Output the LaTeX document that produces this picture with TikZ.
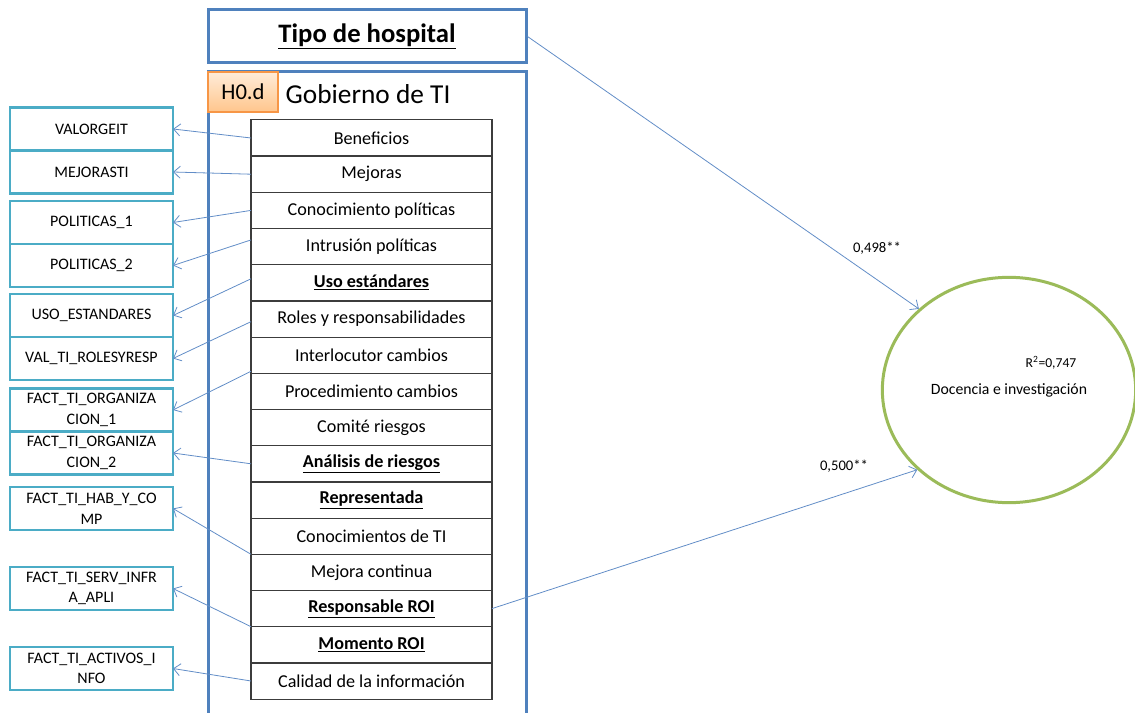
\documentclass[tikz,border=0pt]{standalone}
\usepackage{fontspec}
\setmainfont{Carlito}
\usetikzlibrary{positioning,shapes.geometric,arrows.meta}

\definecolor{outerblue}{RGB}{79,129,189}
\definecolor{tealbox}{RGB}{75,172,198}
\definecolor{linkblue}{RGB}{98,141,199}
\definecolor{circgreen}{RGB}{155,187,89}
\definecolor{horange}{RGB}{247,150,70}
\definecolor{rowline}{RGB}{60,60,60}

\tikzset{
  rowbox/.style={draw=rowline, line width=0.9pt, minimum width=180.75pt, minimum height=27.15pt,
    inner sep=0pt, outer sep=0pt, font=\fontsize{13.6}{15}\selectfont},
  indbox/.style={draw=tealbox, line width=2.2pt, minimum width=122.25pt, minimum height=32.25pt,
    inner sep=1pt, outer sep=0pt, align=center, font=\fontsize{12}{15.5}\selectfont},
  link/.style={draw=linkblue, line width=0.6pt, -{Straight Barb[length=5pt,width=9pt]}},
  coef/.style={font=\fontsize{11}{13}\selectfont},
}

\begin{document}
\begin{tikzpicture}[x=0.75pt,y=0.75pt,yscale=-1,xscale=1]
  \useasboundingbox (0,0) rectangle (1135,713);

  % construct boxes
  \node[draw=outerblue, line width=2.25pt, minimum width=238.5pt, minimum height=39.75pt, inner sep=0pt,
    font=\fontsize{20}{22}\selectfont\bfseries] (tipo) at (367,36.5) {\raisebox{2pt}{\underline{Tipo de hospital}}};
  \draw[outerblue, line width=2.25pt] (208,730) -- (208,72) -- (526,72) -- (526,730);
  \node[draw=horange, line width=0.8pt, top color=orange!15, bottom color=orange!45, minimum width=52.5pt,
    minimum height=30pt, inner sep=0pt, font=\fontsize{17}{19}\selectfont] (hyp) at (243,92) {H0.d};
  \node[font=\fontsize{20.5}{22}\selectfont, anchor=west] (gobierno) at (281,94) {Gobierno de TI};

  % items
  \node[rowbox] (r1) at (371.5,138) {Beneficios};
  \node[rowbox, below=0pt of r1] (r2) {Mejoras};
  \node[rowbox, below=0pt of r2] (r3) {Conocimiento políticas};
  \node[rowbox, below=0pt of r3] (r4) {Intrusión políticas};
  \node[rowbox, below=0pt of r4] (r5) {\textbf{\underline{Uso estándares}}};
  \node[rowbox, below=0pt of r5] (r6) {Roles y responsabilidades};
  \node[rowbox, below=0pt of r6] (r7) {Interlocutor cambios};
  \node[rowbox, below=0pt of r7] (r8) {Procedimiento cambios};
  \node[rowbox, below=0pt of r8] (r9) {Comité riesgos};
  \node[rowbox, below=0pt of r9] (r10) {\textbf{\underline{Análisis de riesgos}}};
  \node[rowbox, below=0pt of r10] (r11) {\textbf{\underline{Representada}}};
  \node[rowbox, below=0pt of r11] (r12) {Conocimientos de TI};
  \node[rowbox, below=0pt of r12] (r13) {Mejora continua};
  \node[rowbox, below=0pt of r13] (r14) {\textbf{\underline{Responsable ROI}}};
  \node[rowbox, below=0pt of r14] (r15) {\textbf{\underline{Momento ROI}}};
  \node[rowbox, below=0pt of r15] (r16) {Calidad de la información};

  % indicators
  \node[indbox] (valorgeit) at (91.5,129) {VALORGEIT};
  \node[indbox, below=0pt of valorgeit] (mejorasti) {MEJORASTI};
  \node[indbox] (politicas1) at (91.5,222.5) {POLITICAS\_1};
  \node[indbox, below=0pt of politicas1] (politicas2) {POLITICAS\_2};
  \node[indbox] (usoest) at (91.5,315.5) {USO\_ESTANDARES};
  \node[indbox, below=0pt of usoest] (valroles) {VAL\_TI\_ROLESYRESP};
  \node[indbox] (factorg1) at (91.5,410) {FACT\_TI\_ORGANIZA\\CION\_1};
  \node[indbox, below=0pt of factorg1] (factorg2) {FACT\_TI\_ORGANIZA\\CION\_2};
  \node[indbox] (facthab) at (91.5,508.5) {FACT\_TI\_HAB\_Y\_CO\\MP};
  \node[indbox] (factserv) at (91.5,588.5) {FACT\_TI\_SERV\_INFR\\A\_APLI};
  \node[indbox] (factact) at (91.5,668.5) {FACT\_TI\_ACTIVOS\_I\\NFO};

  \draw[link] (r1.west) -- (valorgeit.east);
  \draw[link] (r2.west) -- (mejorasti.east);
  \draw[link] (r3.west) -- (politicas1.east);
  \draw[link] ([yshift=-5pt]r4.west) -- (politicas2.east);
  \draw[link] ([yshift=-3pt]r5.west) -- (usoest.east);
  \draw[link] ([yshift=2pt]r6.west) -- (valroles.east);
  \draw[link] ([yshift=-1.5pt]r8.north west) -- (factorg1.east);
  \draw[link] (r10.west) -- (factorg2.east);
  \draw[link] (r13.north west) -- (facthab.east);
  \draw[link] (r15.north west) -- (factserv.east);
  \draw[link] (r16.west) -- (factact.east);

  % outcome
  \node[ellipse, draw=circgreen, line width=2.25pt, minimum width=190pt, minimum height=169pt,
    font=\fontsize{11.8}{13}\selectfont] (docencia) at (1009,390) {Docencia e investigación};
  \node[font=\fontsize{10.2}{12}\selectfont] (rsq) at (1051,363) {R\textsuperscript{2}=0,747};

  \draw[link] (tipo.east) -- (docencia.138);
  \draw[link] (r14.east) -- (docencia.221);
  \node[coef] (b1) at (877,248) {0,498**};
  \node[coef] (b2) at (844,466) {0,500**};
\end{tikzpicture}
\end{document}
